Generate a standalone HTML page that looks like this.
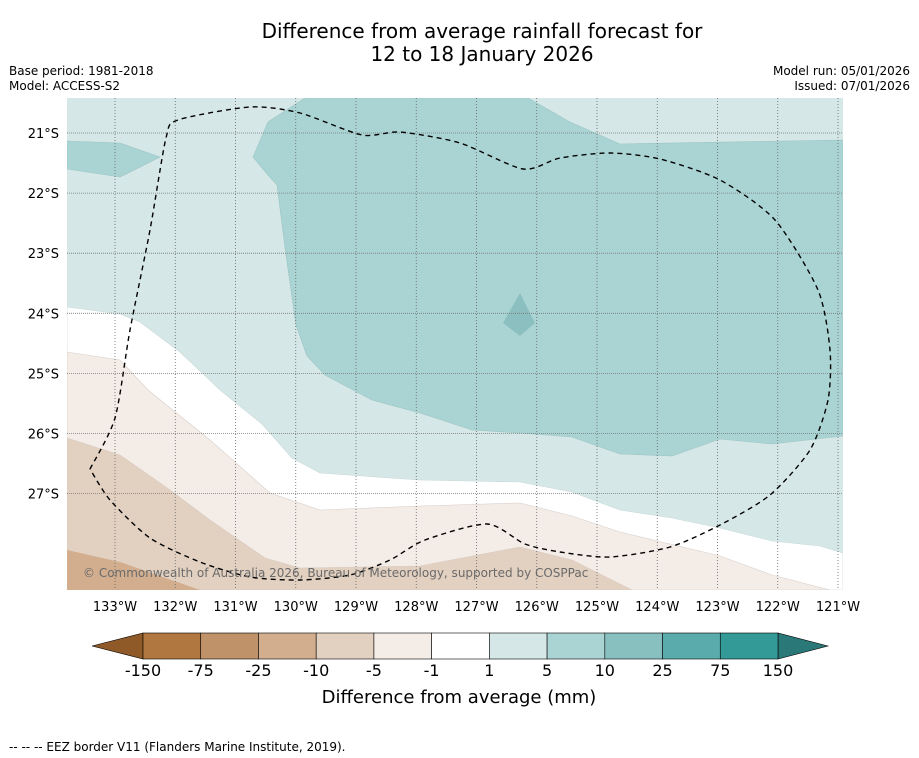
<!DOCTYPE html>
<html><head><meta charset="utf-8"><style>
body{margin:0;background:#fff;font-family:"DejaVu Sans","Liberation Sans",sans-serif;}
svg{display:block}
</style></head><body>
<svg id="chart" width="919" height="758" xmlns="http://www.w3.org/2000/svg">
<rect width="919" height="758" fill="#fff"/>
<text x="482" y="38" font-size="20" text-anchor="middle" fill="#000">Difference from average rainfall forecast for</text>
<text x="482" y="61" font-size="20" text-anchor="middle" fill="#000">12 to 18 January 2026</text>
<text x="9" y="75" font-size="12">Base period: 1981-2018</text>
<text x="9" y="90" font-size="12">Model: ACCESS-S2</text>
<text x="910" y="75" font-size="12" text-anchor="end">Model run: 05/01/2026</text>
<text x="910" y="90" font-size="12" text-anchor="end">Issued: 07/01/2026</text>
<defs><clipPath id="mapclip"><rect x="67" y="98" width="776" height="492"/></clipPath></defs>
<g id="map" clip-path="url(#mapclip)">
<rect x="67" y="98" width="776" height="492" fill="#d5e8e7"/>
<polygon fill="#ffffff" stroke="#c8d8d8" stroke-width="0.6" points="67,307 120,314 140,322 180,352 220,390 262,424 292,458 320,473 420,480 520,482 572,492 620,510 672,518 720,528 772,541 820,546 843,553 843,590 67,590"/>
<polygon fill="#f4ece6" stroke="#d8d0cc" stroke-width="0.6" points="67,352 120,360 148,390 210,440 270,493 320,510 420,506 520,503 572,516 620,532 720,556 772,575 830,590 67,590"/>
<polygon fill="#e2d0c0" stroke="#d8ccc4" stroke-width="0.6" points="67,438 120,455 170,490 210,520 265,558 300,568 420,566 520,547 572,560 632,590 67,590"/>
<polygon fill="#d2ae8e" points="67,550 120,562 200,590 67,590"/>
<polygon fill="#aad4d4" stroke="#9cc4c4" stroke-width="0.6" points="305,98 528,98 570,122 620,144 843,140 843,436 772,444 720,439 672,456 620,454 572,437 520,433 472,430 420,413 372,400 325,375 307,356 296,325 286,255 277,185 268,175 253,157 268,122"/>
<polygon fill="#aad4d4" stroke="#9cc4c4" stroke-width="0.6" points="67,141 120,143 160,157 120,177 67,169"/>
<polygon fill="#8cc0c0" points="520,293 535,323 520,336 503,323"/>
<g id="grid"></g>
<path id="eez" fill="none" stroke="#000" stroke-width="1.4" stroke-dasharray="5,4"/>
<text x="83" y="577" font-size="12" fill="#6a6a6a">© Commonwealth of Australia 2026, Bureau of Meteorology, supported by COSPPac</text>
</g>
<g id="axes"></g>
<g id="cbar"></g>
<text x="459" y="703" font-size="18" text-anchor="middle">Difference from average (mm)</text>
<text x="9" y="751" font-size="12">--  --  -- EEZ border V11 (Flanders Marine Institute, 2019).</text>
</svg>
<script>
const lonTicks=[-133,-132,-131,-130,-129,-128,-127,-126,-125,-124,-123,-122,-121];
const latTicks=[-21,-22,-23,-24,-25,-26,-27];
const cbarLabels=["-150","-75","-25","-10","-5","-1","1","5","10","25","75","150"];
const cbarColors=["#b07840","#c0926a","#d2ae8e","#e2d0c0","#f4ece6","#ffffff","#d5e8e7","#aad4d4","#88bfbf","#5aabab","#339a97"];
const eezPts=[[90,469],[115,418],[130,330],[150,230],[166,138],[178,120],[250,107],[300,113],[362,135],[400,132],[460,143],[523,169],[560,158],[610,153],[660,159],[720,180],[775,220],[818,290],[830,350],[828,400],[810,450],[770,495],[720,525],[670,547],[610,557],[560,552],[525,544],[487,524],[425,540],[390,560],[350,575],[300,580],[250,577],[200,562],[150,538],[110,500],[90,469]];
const NS="http://www.w3.org/2000/svg";
function xLon(l){return 115+(l+133)*60.25;}
function yLat(l){return 133+(-21-l)*60.1;}
function mk(t,a,p){const e=document.createElementNS(NS,t);for(const k in a)e.setAttribute(k,a[k]);p.appendChild(e);return e;}
const grid=document.getElementById('grid'),axes=document.getElementById('axes'),cb=document.getElementById('cbar');
// smooth EEZ
(function(){let d='M'+eezPts[0].join(',');const n=eezPts.length;
for(let i=0;i<n-1;i++){const p0=eezPts[Math.max(i-1,0)],p1=eezPts[i],p2=eezPts[i+1],p3=eezPts[Math.min(i+2,n-1)];
const c1=[p1[0]+(p2[0]-p0[0])/8,p1[1]+(p2[1]-p0[1])/8],c2=[p2[0]-(p3[0]-p1[0])/8,p2[1]-(p3[1]-p1[1])/8];
d+=` C${c1[0]},${c1[1]} ${c2[0]},${c2[1]} ${p2[0]},${p2[1]}`;}
document.getElementById('eez').setAttribute('d',d);})();
lonTicks.forEach(l=>{const x=xLon(l);
 const g=mk('line',{x1:x,x2:x,y1:98,y2:590,stroke:'#666','stroke-width':0.8,'stroke-dasharray':'1,2'},grid);
 
 
 const t=mk('text',{x:x,y:611,'font-size':13,'text-anchor':'middle'},axes);t.textContent=Math.abs(l)+'°W';
 
 });
latTicks.forEach(l=>{const y=yLat(l);
 const g=mk('line',{x1:67,x2:843,y1:y,y2:y,stroke:'#777','stroke-width':0.8,'stroke-dasharray':'1,1'},grid);
 
 
 const t=mk('text',{x:59,y:y+5,'font-size':13,'text-anchor':'end'},axes);t.textContent=Math.abs(l)+'°S';
 
 });
const x0=143,x1=778,w=(x1-x0)/cbarColors.length,yt=633,yb=659;
const lt=mk('polygon',{points:`92,646 ${x0},${yt} ${x0},${yb}`,fill:'#8f5a28',stroke:'#000','stroke-width':0.6},cb);


const rt=mk('polygon',{points:`828,646 ${x1},${yt} ${x1},${yb}`,fill:'#2a7878',stroke:'#000','stroke-width':0.6},cb);


cbarColors.forEach((c,i)=>{const r=mk('rect',{x:x0+i*w,y:yt,width:w,height:yb-yt,fill:c,stroke:'#000','stroke-width':0.6},cb);
 
 });
cbarLabels.forEach((s,i)=>{const t=mk('text',{x:x0+i*w,y:676,'font-size':16,'text-anchor':'middle'},cb);t.textContent=s;
 
 });
</script>
</body></html>
